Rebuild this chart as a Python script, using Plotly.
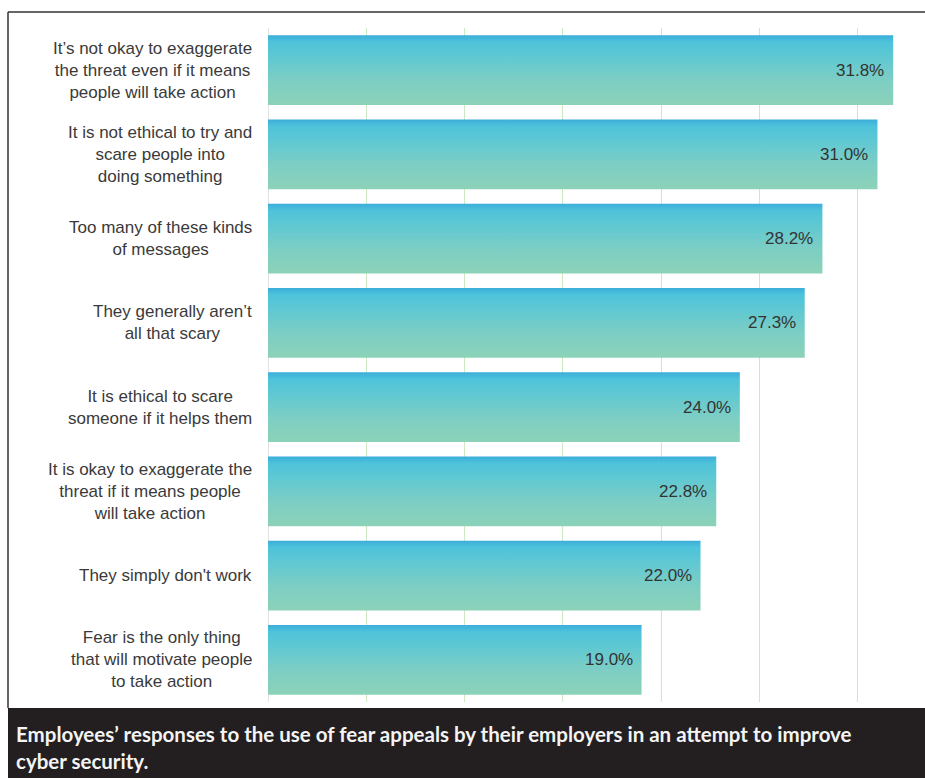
import plotly.graph_objects as go

categories = [
    "It’s not okay to exaggerate<br>the threat even if it means<br>people will take action",
    "It is not ethical to try and<br>scare people into<br>doing something",
    "Too many of these kinds<br>of messages",
    "They generally aren’t<br>all that scary",
    "It is ethical to scare<br>someone if it helps them",
    "It is okay to exaggerate the<br>threat if it means people<br>will take action",
    "They simply don't work",
    "Fear is the only thing<br>that will motivate people<br>to take action",
]
values = [31.8, 31.0, 28.2, 27.3, 24.0, 22.8, 22.0, 19.0]
value_labels = ["31.8%", "31.0%", "28.2%", "27.3%", "24.0%", "22.8%", "22.0%", "19.0%"]
grid_ticks = [0, 5, 10, 15, 20, 25, 30]
caption = ("Employees’ responses to the use of fear appeals by their employers in an attempt to improve"
           "<br>cyber security.")

W, H = 925, 778
L, R, T, B = 268, 0, 28, 76
PX_PER_UNIT = 19.66
xmax = (W - L - R) / PX_PER_UNIT
n = len(categories)
half = 0.415

plot_w = W - L - R
plot_h = H - T - B

def px2paper_x(px):
    return (px - L) / plot_w

def px2paper_y(py):
    return (H - B - py) / plot_h

fig = go.Figure()

grad = [[0.0, "#8cd2b8"], [0.35, "#7dcec4"], [0.7, "#5ec8d3"], [0.9, "#4ec3da"], [1.0, "#3badda"]]

for i, (cat, v) in enumerate(zip(categories, values)):
    yc = n - 1 - i
    fig.add_trace(go.Scatter(
        x=[0, v, v, 0, 0],
        y=[yc - half, yc - half, yc + half, yc + half, yc - half],
        mode="lines",
        fill="toself",
        line=dict(width=0, color="rgba(0,0,0,0)"),
        fillgradient=dict(type="vertical", colorscale=grad),
        hoverinfo="skip",
        showlegend=False,
    ))
    fig.add_annotation(
        x=v, y=yc, xref="x", yref="y", text=value_labels[i],
        xanchor="right", yanchor="middle", xshift=-7, showarrow=False,
        font=dict(family="Liberation Sans, Arial", size=17, color="#333333"),
    )
    fig.add_annotation(
        x=0, y=yc, xref="x", yref="y", text=cat,
        xanchor="right", yanchor="middle", xshift=-14, align="center", showarrow=False,
        font=dict(family="Liberation Sans, Arial", size=17, color="#3a3a3a"),
    )

# caption box
fig.add_shape(type="rect", xref="paper", yref="paper",
              x0=px2paper_x(8), x1=px2paper_x(W + 5), y0=px2paper_y(H + 5), y1=px2paper_y(708),
              fillcolor="#231f20", line=dict(width=0), layer="above")
fig.add_annotation(
    xref="paper", yref="paper", x=px2paper_x(14), y=px2paper_y(720),
    xanchor="left", yanchor="top", align="left", showarrow=False, text="<b>" + caption + "</b>",
    font=dict(family="Lato, Open Sans, sans-serif", size=20.5, color="#f4f4f4"),
)
# frame lines
fig.add_shape(type="line", xref="paper", yref="paper",
              x0=px2paper_x(8), x1=px2paper_x(W + 5), y0=px2paper_y(12), y1=px2paper_y(12),
              line=dict(color="#333333", width=1.5))
fig.add_shape(type="line", xref="paper", yref="paper",
              x0=px2paper_x(8), x1=px2paper_x(8), y0=px2paper_y(12), y1=px2paper_y(708),
              line=dict(color="#333333", width=1.5))

fig.update_xaxes(range=[0, xmax], tickvals=grid_ticks, showticklabels=False,
                 showgrid=True, gridcolor="#cde8c5", gridwidth=1, zeroline=False,
                 showline=False, fixedrange=True)
fig.update_yaxes(range=[-0.5, n - 0.5], showticklabels=False, showgrid=False,
                 zeroline=False, showline=False, fixedrange=True)
fig.add_shape(type="line", xref="x", yref="paper", x0=0, x1=0, y0=0, y1=1,
              line=dict(color="#d9d9d9", width=1.5), layer="below")

fig.update_layout(
    width=W, height=H,
    margin=dict(l=L, r=R, t=T, b=B, pad=0),
    plot_bgcolor="white", paper_bgcolor="white",
    showlegend=False,
)

fig.write_html("out.html")
